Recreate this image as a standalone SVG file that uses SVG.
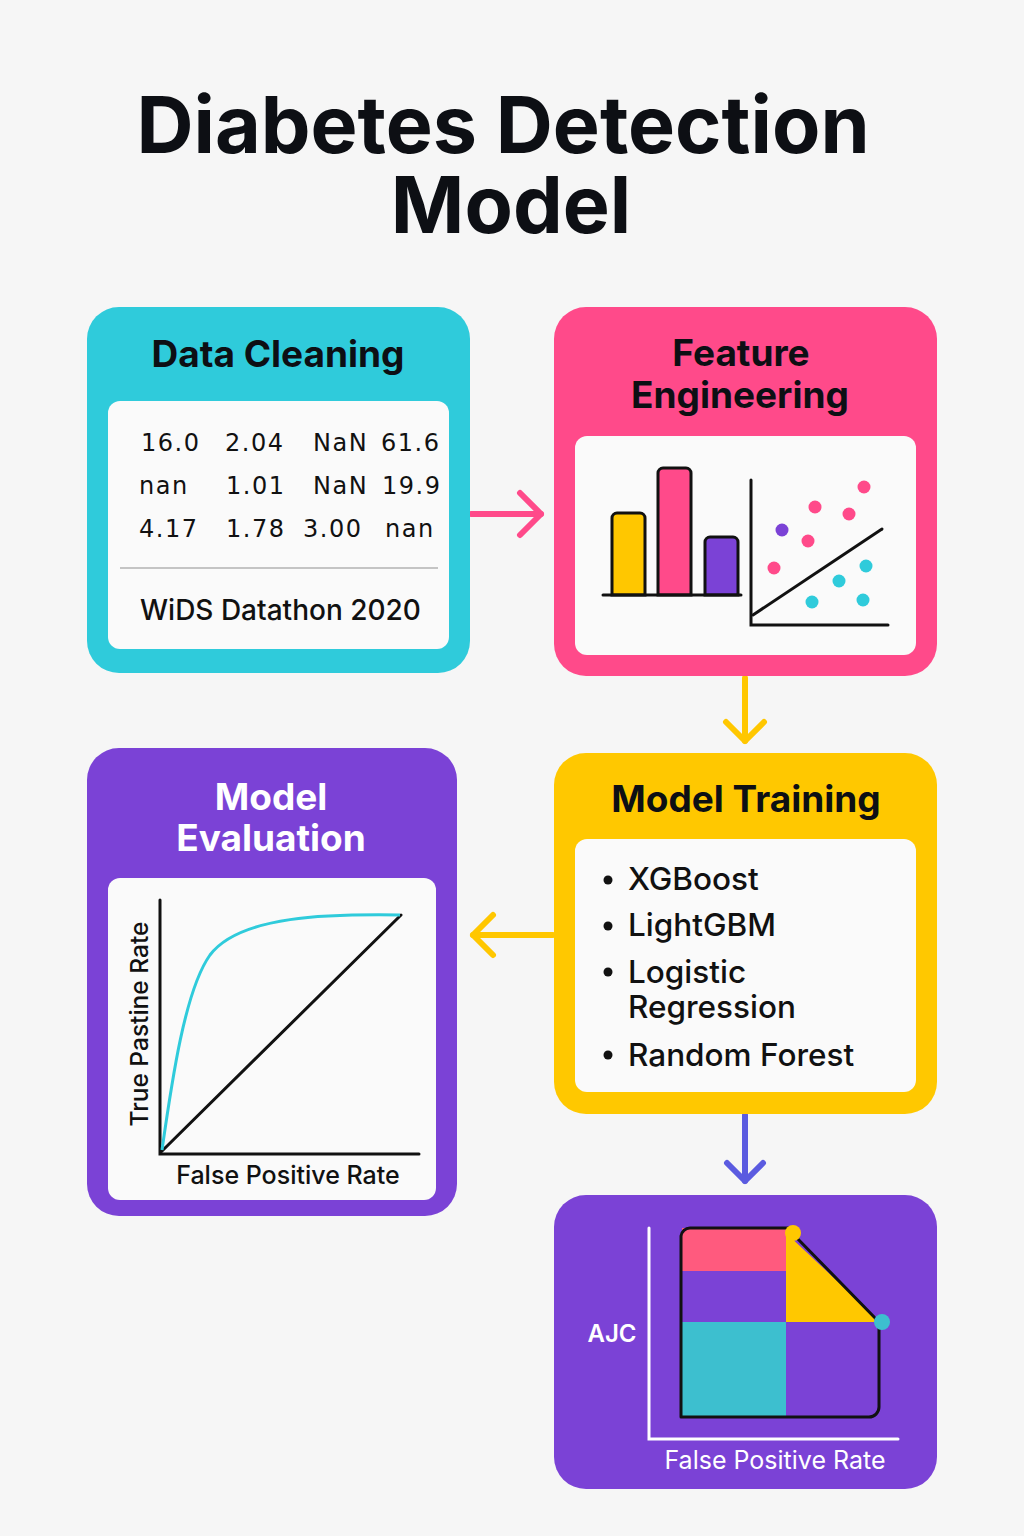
<svg xmlns="http://www.w3.org/2000/svg" width="1024" height="1536" viewBox="0 0 1024 1536">
  <defs>
    <style>
      .title { font-family: Inter, "Liberation Sans", sans-serif; font-weight: 700; fill: #0d0f14; text-anchor: middle; }
      .head { font-family: Inter, "Liberation Sans", sans-serif; font-weight: 700; font-size: 37px; text-anchor: middle; }
      .nums { font-family: "DejaVu Sans", "Liberation Sans", sans-serif; font-size: 24px; letter-spacing: 1.5px; fill: #111; }
      .body { font-family: Inter, "Liberation Sans", sans-serif; font-weight: 500; fill: #111; }
      .panel { fill: #fafafa; }
      .arrow { fill: none; stroke-width: 6; stroke-linecap: round; stroke-linejoin: round; }
      .ink { fill: none; stroke: #111; stroke-width: 3; stroke-linecap: round; }
    </style>
  </defs>

  <rect width="1024" height="1536" fill="#f6f6f6"/>

  <!-- Heading -->
  <text class="title" x="503" y="153" font-size="79">Diabetes Detection</text>
  <text class="title" x="511" y="233" font-size="79">Model</text>

  <!-- Connectors -->
  <g id="connectors">
    <g class="arrow" stroke="#ff4a8a">
      <line x1="471" y1="514" x2="541" y2="514"/>
      <polyline points="520,493 541,514 520,535"/>
    </g>
    <g class="arrow" stroke="#ffc700">
      <line x1="745" y1="678" x2="745" y2="741"/>
      <polyline points="726,722 745,741 764,722"/>
    </g>
    <g class="arrow" stroke="#ffc700">
      <line x1="553" y1="935" x2="473" y2="935"/>
      <polyline points="493,915 473,935 493,955"/>
    </g>
    <g class="arrow" stroke="#5b5be0">
      <line x1="745" y1="1115" x2="745" y2="1181"/>
      <polyline points="727,1163 745,1181 763,1163"/>
    </g>
  </g>

  <!-- Data Cleaning -->
  <g id="data-cleaning">
    <rect x="87" y="307" width="383" height="366" rx="32" fill="#2fcbdb"/>
    <rect class="panel" x="108" y="401" width="341" height="248" rx="12"/>
    <text class="head" x="278" y="367" fill="#0d0f14">Data Cleaning</text>
    <g class="nums">
      <text x="141" y="451">16.0</text>
      <text x="225" y="451">2.04</text>
      <text x="313" y="451">NaN</text>
      <text x="381" y="451">61.6</text>
      <text x="139" y="494">nan</text>
      <text x="226" y="494">1.01</text>
      <text x="313" y="494">NaN</text>
      <text x="382" y="494">19.9</text>
      <text x="139" y="537">4.17</text>
      <text x="226" y="537">1.78</text>
      <text x="303" y="537">3.00</text>
      <text x="385" y="537">nan</text>
    </g>
    <line x1="120" y1="568" x2="438" y2="568" stroke="#c4c4c4" stroke-width="2"/>
    <text class="body" x="140" y="620" font-size="28" font-weight="400">WiDS Datathon 2020</text>
  </g>

  <!-- Feature Engineering -->
  <g id="feature-engineering">
    <rect x="554" y="307" width="383" height="369" rx="32" fill="#ff4a8a"/>
    <rect class="panel" x="575" y="436" width="341" height="219" rx="12"/>
    <text class="head" x="741" y="366" fill="#0d0f14">Feature</text>
    <text class="head" x="740" y="408" fill="#0d0f14">Engineering</text>
    <!-- bar chart -->
    <path d="M612,595 V518 a5,5 0 0 1 5,-5 H640 a5,5 0 0 1 5,5 V595 Z" fill="#ffc700" stroke="#111" stroke-width="3"/>
    <path d="M658,595 V473 a5,5 0 0 1 5,-5 H686 a5,5 0 0 1 5,5 V595 Z" fill="#ff4a8a" stroke="#111" stroke-width="3"/>
    <path d="M705,595 V542 a5,5 0 0 1 5,-5 H733 a5,5 0 0 1 5,5 V595 Z" fill="#7b42d6" stroke="#111" stroke-width="3"/>
    <line class="ink" x1="603" y1="595" x2="741" y2="595"/>
    <!-- scatter plot -->
    <polyline class="ink" points="751,480 751,625 888,625"/>
    <line class="ink" x1="753" y1="615" x2="882" y2="529"/>
    <g fill="#ff4a8a">
      <circle cx="864" cy="487" r="6.5"/>
      <circle cx="815" cy="507" r="6.5"/>
      <circle cx="849" cy="514" r="6.5"/>
      <circle cx="808" cy="541" r="6.5"/>
      <circle cx="774" cy="568" r="6.5"/>
    </g>
    <circle cx="782" cy="530" r="6.5" fill="#7b42d6"/>
    <g fill="#2fcbdb">
      <circle cx="866" cy="566" r="6.5"/>
      <circle cx="839" cy="581" r="6.5"/>
      <circle cx="812" cy="602" r="6.5"/>
      <circle cx="863" cy="600" r="6.5"/>
    </g>
  </g>

  <!-- Model Training -->
  <g id="model-training">
    <rect x="554" y="753" width="383" height="361" rx="32" fill="#ffc800"/>
    <rect class="panel" x="575" y="839" width="341" height="253" rx="12"/>
    <text class="head" x="746" y="812" fill="#0d0f14" font-size="38">Model Training</text>
    <g fill="#111">
      <circle cx="608" cy="880" r="4.5"/>
      <circle cx="608" cy="926" r="4.5"/>
      <circle cx="608" cy="972" r="4.5"/>
      <circle cx="608" cy="1055" r="4.5"/>
    </g>
    <g class="body" font-size="31.5">
      <text x="628" y="890">XGBoost</text>
      <text x="628" y="936">LightGBM</text>
      <text x="628" y="983">Logistic</text>
      <text x="628" y="1018">Regression</text>
      <text x="628" y="1066">Random Forest</text>
    </g>
  </g>

  <!-- Model Evaluation -->
  <g id="model-evaluation">
    <rect x="87" y="748" width="370" height="468" rx="32" fill="#7b42d6"/>
    <rect class="panel" x="108" y="878" width="328" height="322" rx="12"/>
    <text class="head" x="271" y="810" fill="#ffffff">Model</text>
    <text class="head" x="271" y="851" fill="#ffffff">Evaluation</text>
    <polyline class="ink" points="160,900 160,1154 419,1154"/>
    <line class="ink" x1="161" y1="1152" x2="401" y2="915"/>
    <path d="M162,1150 C172,1080 185,990 210,955 C240,915 330,914 400,915" fill="none" stroke="#2fcbdb" stroke-width="3"/>
    <text class="body" font-weight="400" font-size="24.5" text-anchor="middle" transform="translate(148,1024) rotate(-90)">True Pastine Rate</text>
    <text class="body" font-weight="400" x="288" y="1184" font-size="25" text-anchor="middle">False Positive Rate</text>
  </g>

  <!-- AUC chart -->
  <g id="auc-chart">
    <rect x="554" y="1195" width="383" height="294" rx="32" fill="#7b42d6"/>
    <polyline points="649,1228 649,1439 898,1439" fill="none" stroke="#ffffff" stroke-width="3" stroke-linecap="round"/>
    <rect x="682" y="1228" width="104" height="43" fill="#ff5a7e"/>
    <rect x="682" y="1271" width="104" height="51" fill="#7b42d6"/>
    <rect x="682" y="1322" width="104" height="94" fill="#3dbfcf"/>
    <polygon points="786,1233 786,1322 881,1322" fill="#ffc800"/>
    <rect x="786" y="1322" width="94" height="94" fill="#7b42d6"/>
    <path d="M681,1236 V1417 H869 a10,10 0 0 0 10,-10 V1322 L793,1234 L790,1228 H690 a9,9 0 0 0 -9,8 Z" fill="none" stroke="#111" stroke-width="3" stroke-linejoin="round"/>
    <circle cx="793" cy="1233" r="8" fill="#ffc800"/>
    <circle cx="882" cy="1322" r="8" fill="#3dbfcf"/>
    <text x="612" y="1342" font-family="Inter, 'Liberation Sans', sans-serif" font-weight="600" font-size="24" fill="#ffffff" text-anchor="middle">AJC</text>
    <text x="775" y="1469" font-family="Inter, 'Liberation Sans', sans-serif" font-size="25" fill="#ffffff" text-anchor="middle">False Positive Rate</text>
  </g>
</svg>
